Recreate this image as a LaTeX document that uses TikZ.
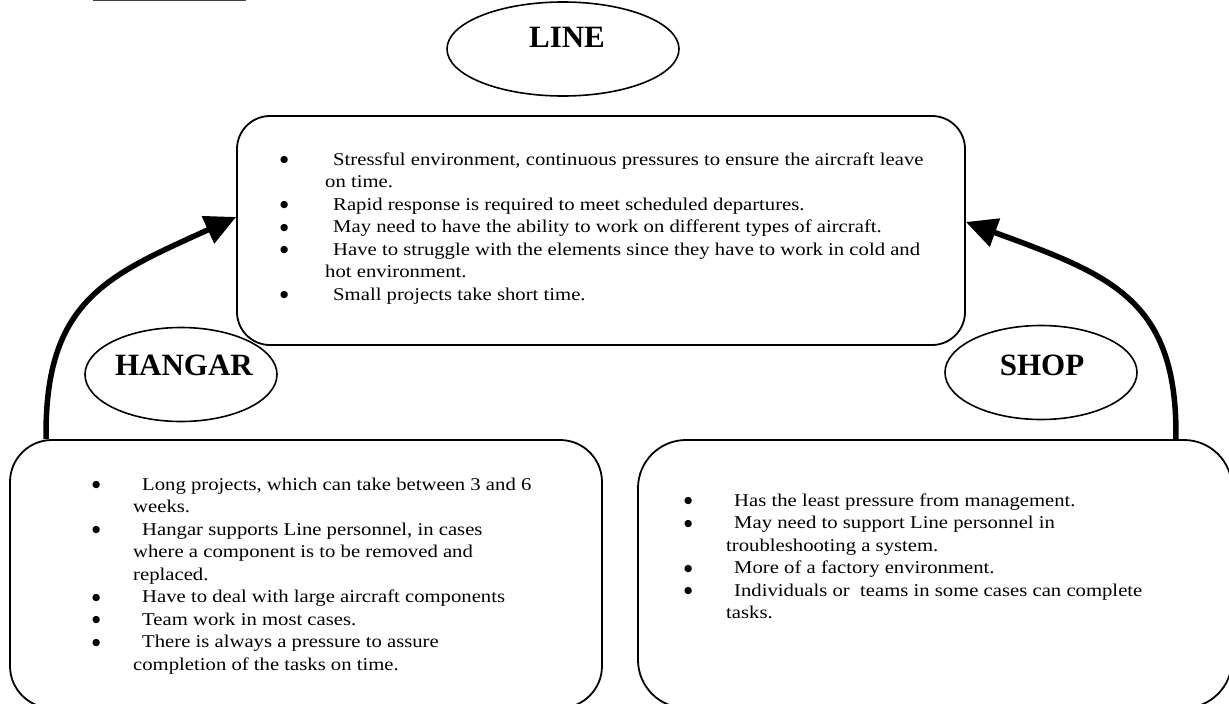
\documentclass[tikz,border=0pt]{standalone}
\usepackage{fontspec}
\setmainfont{Liberation Serif}
\newfontfamily\bodyfont{Liberation Serif}[FakeStretch=1.15]
\newfontfamily\dotfont{DejaVu Sans}
\newcommand{\bul}{\raisebox{2.2pt}{\dotfont\fontsize{9.5}{9.5}\selectfont ●}}
\usetikzlibrary{shapes.geometric,arrows.meta,calc}
\begin{document}
\begin{tikzpicture}[x=1pt,y=-1pt,
  box/.style={draw, line width=1.8pt, rounded corners=#1, inner sep=0pt, minimum height=268pt},
  oval/.style={draw, ellipse, line width=1.6pt, inner sep=0pt, minimum height=94pt},
  lab/.style={font=\fontsize{31}{31}\selectfont\bfseries, inner sep=0pt},
  txt/.style={anchor=base west, inner sep=0pt, font=\bodyfont\fontsize{18}{22.5}\selectfont},
  flow/.style={line width=5.5pt, -{Triangle[length=31pt,width=29pt]}}
]
\useasboundingbox (0,0) rectangle (1229,704);

% cut-off rule at the top edge
\draw[black!75, line width=1.4pt] (93,0.7) -- (246,0.7);

% category ovals
\node[oval, minimum width=232pt] (lineoval) at (563,49) {};
\node[lab] (linelab) at (567,37) {LINE};
\node[oval, minimum width=192pt] (hangaroval) at (181,374.5) {};
\node[lab] (hangarlab) at (184,365) {HANGAR};
\node[oval, minimum width=192pt] (shopoval) at (1041,372.5) {};
\node[lab] (shoplab) at (1042,365) {SHOP};

% description boxes
\node[box=33pt, minimum width=728pt, minimum height=229pt] (linebox) at (601,230.5) {};
\node[box=42pt, minimum width=592pt] (hangarbox) at (306,574) {};
\node[box=48pt, minimum width=594pt] (shopbox) at (935,574) {};

% box texts
\node[txt] (linetext) at (280,165) {\begin{tabular}[t]{@{}p{45pt}@{}l@{}}
\bul & \hspace{8pt}Stressful environment, continuous pressures to ensure the aircraft leave\\
 & on time.\\
\bul & \hspace{8pt}Rapid response is required to meet scheduled departures.\\
\bul & \hspace{8pt}May need to have the ability to work on different types of aircraft.\\
\bul & \hspace{8pt}Have to struggle with the elements since they have to work in cold and\\
 & hot environment.\\
\bul & \hspace{8pt}Small projects take short time.
\end{tabular}};

\node[txt] (hangartext) at (92,490) {\begin{tabular}[t]{@{}p{41pt}@{}l@{}}
\bul & \hspace{9pt}Long projects, which can take between 3 and 6\\
 & weeks.\\
\bul & \hspace{9pt}Hangar supports Line personnel, in cases\\
 & where a component is to be removed and\\
 & replaced.\\
\bul & \hspace{9pt}Have to deal with large aircraft components\\
\bul & \hspace{9pt}Team work in most cases.\\
\bul & \hspace{9pt}There is always a pressure to assure\\
 & completion of the tasks on time.
\end{tabular}};

\node[txt] (shoptext) at (684,506) {\begin{tabular}[t]{@{}p{42pt}@{}l@{}}
\bul & \hspace{8pt}Has the least pressure from management.\\
\bul & \hspace{8pt}May need to support Line personnel in\\
 & troubleshooting a system.\\
\bul & \hspace{8pt}More of a factory environment.\\
\bul & \hspace{8pt}Individuals or \ teams in some cases can complete\\
 & tasks.
\end{tabular}};

% flows into the line box
\draw[flow] ($(hangarbox.north west)+(37,0)$)
  .. controls ($(hangarbox.north west)+(35,-140)$) and ($(linebox.west)+(-127,44.5)$)
  .. ($(linebox.west)+(0,-13.5)$);
\draw[flow] ($(shopbox.north east)+(-57,0)$)
  .. controls ($(shopbox.north east)+(-55,-140)$) and ($(linebox.east)+(145,44.5)$)
  .. ($(linebox.east)+(0,-8.5)$);
\end{tikzpicture}
\end{document}
